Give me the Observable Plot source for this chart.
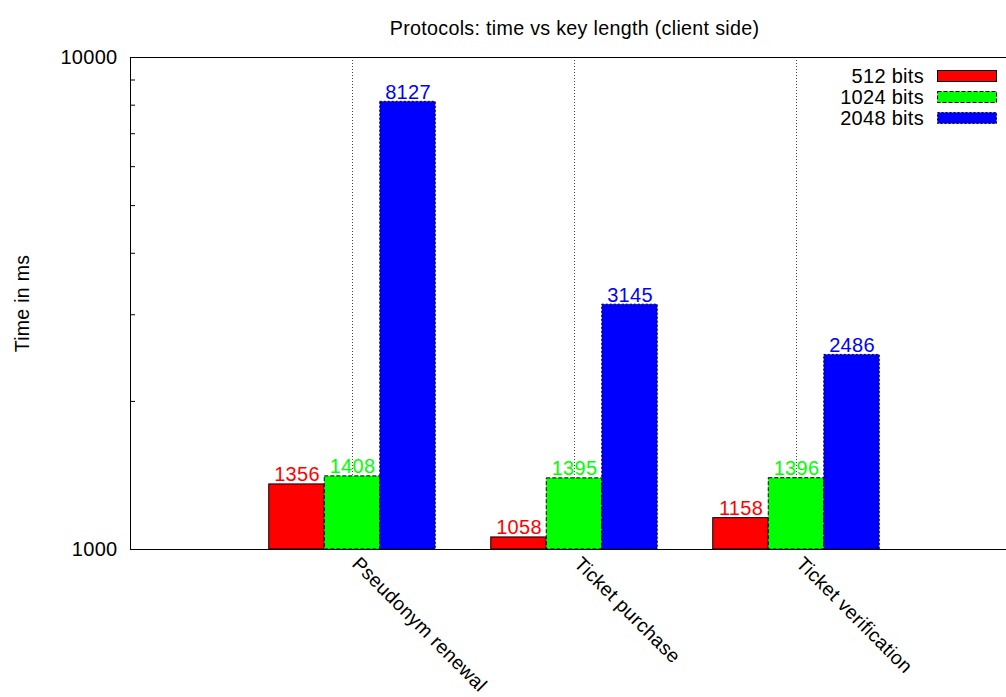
<!DOCTYPE html>
<html>
<head>
<meta charset="utf-8">
<script src="https://cdn.jsdelivr.net/npm/d3@7"></script>
<script src="https://cdn.jsdelivr.net/npm/@observablehq/plot@0.6"></script>
<style>
  html, body { margin: 0; padding: 0; background: white; }
  #chart { width: 1006px; height: 697px; overflow: hidden; }
  #chart svg text { letter-spacing: 0.3px; }
</style>
</head>
<body>
<div id="chart"></div>
<script>
const title = "Protocols: time vs key length (client side)";
const yLabel = "Time in ms";
const categories = ["Pseudonym renewal", "Ticket purchase", "Ticket verification"];
const seriesNames = ["512 bits", "1024 bits", "2048 bits"];
const seriesColors = ["#ff0000", "#00ff00", "#0000ff"];
const seriesDash = [null, "4,2", "2,2"];
const bits512 = [1356, 1058, 1158];
const bits1024 = [1408, 1395, 1396];
const bits2048 = [8127, 3145, 2486];
const yTickValues = [1000, 10000];
const yMinorTicks = [2000, 3000, 4000, 5000, 6000, 7000, 8000, 9000];

const seriesValues = [bits512, bits1024, bits2048];
const barWidth = 0.25;
const series = seriesValues.map((vals, j) => vals.map((v, i) => ({
  cat: categories[i], i, j, value: v,
  x1: i + (j - 1) * barWidth - barWidth / 2,
  x2: i + (j - 1) * barWidth + barWidth / 2,
  xc: i + (j - 1) * barWidth
})));

const font = "'Liberation Sans', Arial, Helvetica, sans-serif";
const fs = 20;

const marks = [
  Plot.ruleX([0, 1, 2], {stroke: "#444", strokeDasharray: "1,2", strokeWidth: 1}),
];
series.forEach((rows, j) => {
  marks.push(Plot.rect(rows, {
    x1: "x1", x2: "x2", y1: () => 1000, y2: "value",
    fill: seriesColors[j], stroke: "#000", strokeWidth: 1,
    strokeDasharray: seriesDash[j] || undefined
  }));
  marks.push(Plot.text(rows, {
    x: "xc", y: "value", text: d => String(d.value),
    fill: seriesColors[j], lineAnchor: "bottom", dy: -3, fontSize: fs
  }));
});
marks.push(
  Plot.ruleY(yTickValues, {stroke: "#000", strokeWidth: 1}),
  Plot.ruleX([-1], {stroke: "#000", strokeWidth: 1}),
  Plot.axisY(yMinorTicks, {tickSize: -5, tickFormat: () => "", stroke: "#000", label: null}),
  Plot.axisY(yTickValues, {tickSize: 0, tickPadding: 13, tickFormat: d => String(d), fontSize: fs, fill: "#000", label: null}),
  Plot.text([title], {frameAnchor: "top", dy: -29, lineAnchor: "middle", fontSize: fs - 0.3, fill: "#000"}),
  Plot.text([yLabel], {frameAnchor: "left", dx: -108, rotate: -90, textAnchor: "middle", lineAnchor: "middle", fontSize: fs - 0.5, fill: "#000"}),
  Plot.text(categories, {x: (d, i) => i, frameAnchor: "bottom", rotate: 45, textAnchor: "start", lineAnchor: "middle", dx: 3, dy: 11, fontSize: fs - 0.6, fill: "#000"})
);

const chart = Plot.plot({
  width: 1006, height: 697,
  marginLeft: 130, marginRight: -12, marginTop: 57, marginBottom: 148,
  x: {type: "linear", domain: [-1, 3], axis: null},
  y: {type: "log", domain: [1000, 10000], axis: null},
  style: {fontFamily: font, fontSize: fs + "px", background: "white", overflow: "hidden"},
  marks
});

// Legend (top right, inside plot frame)
const svg = d3.select(chart);
const lg = svg.append("g").attr("font-family", font).attr("font-size", fs);
seriesNames.forEach((name, j) => {
  const cy = 76 + j * 21;
  lg.append("text").attr("x", 924).attr("y", cy).attr("dy", "0.35em")
    .attr("text-anchor", "end").attr("fill", "#000").text(name);
  lg.append("rect").attr("x", 937.5).attr("y", cy - 5.5).attr("width", 59).attr("height", 11)
    .attr("fill", seriesColors[j]).attr("stroke", "#000").attr("stroke-width", 1)
    .attr("stroke-dasharray", seriesDash[j]);
});

document.getElementById("chart").appendChild(chart);
</script>
</body>
</html>
